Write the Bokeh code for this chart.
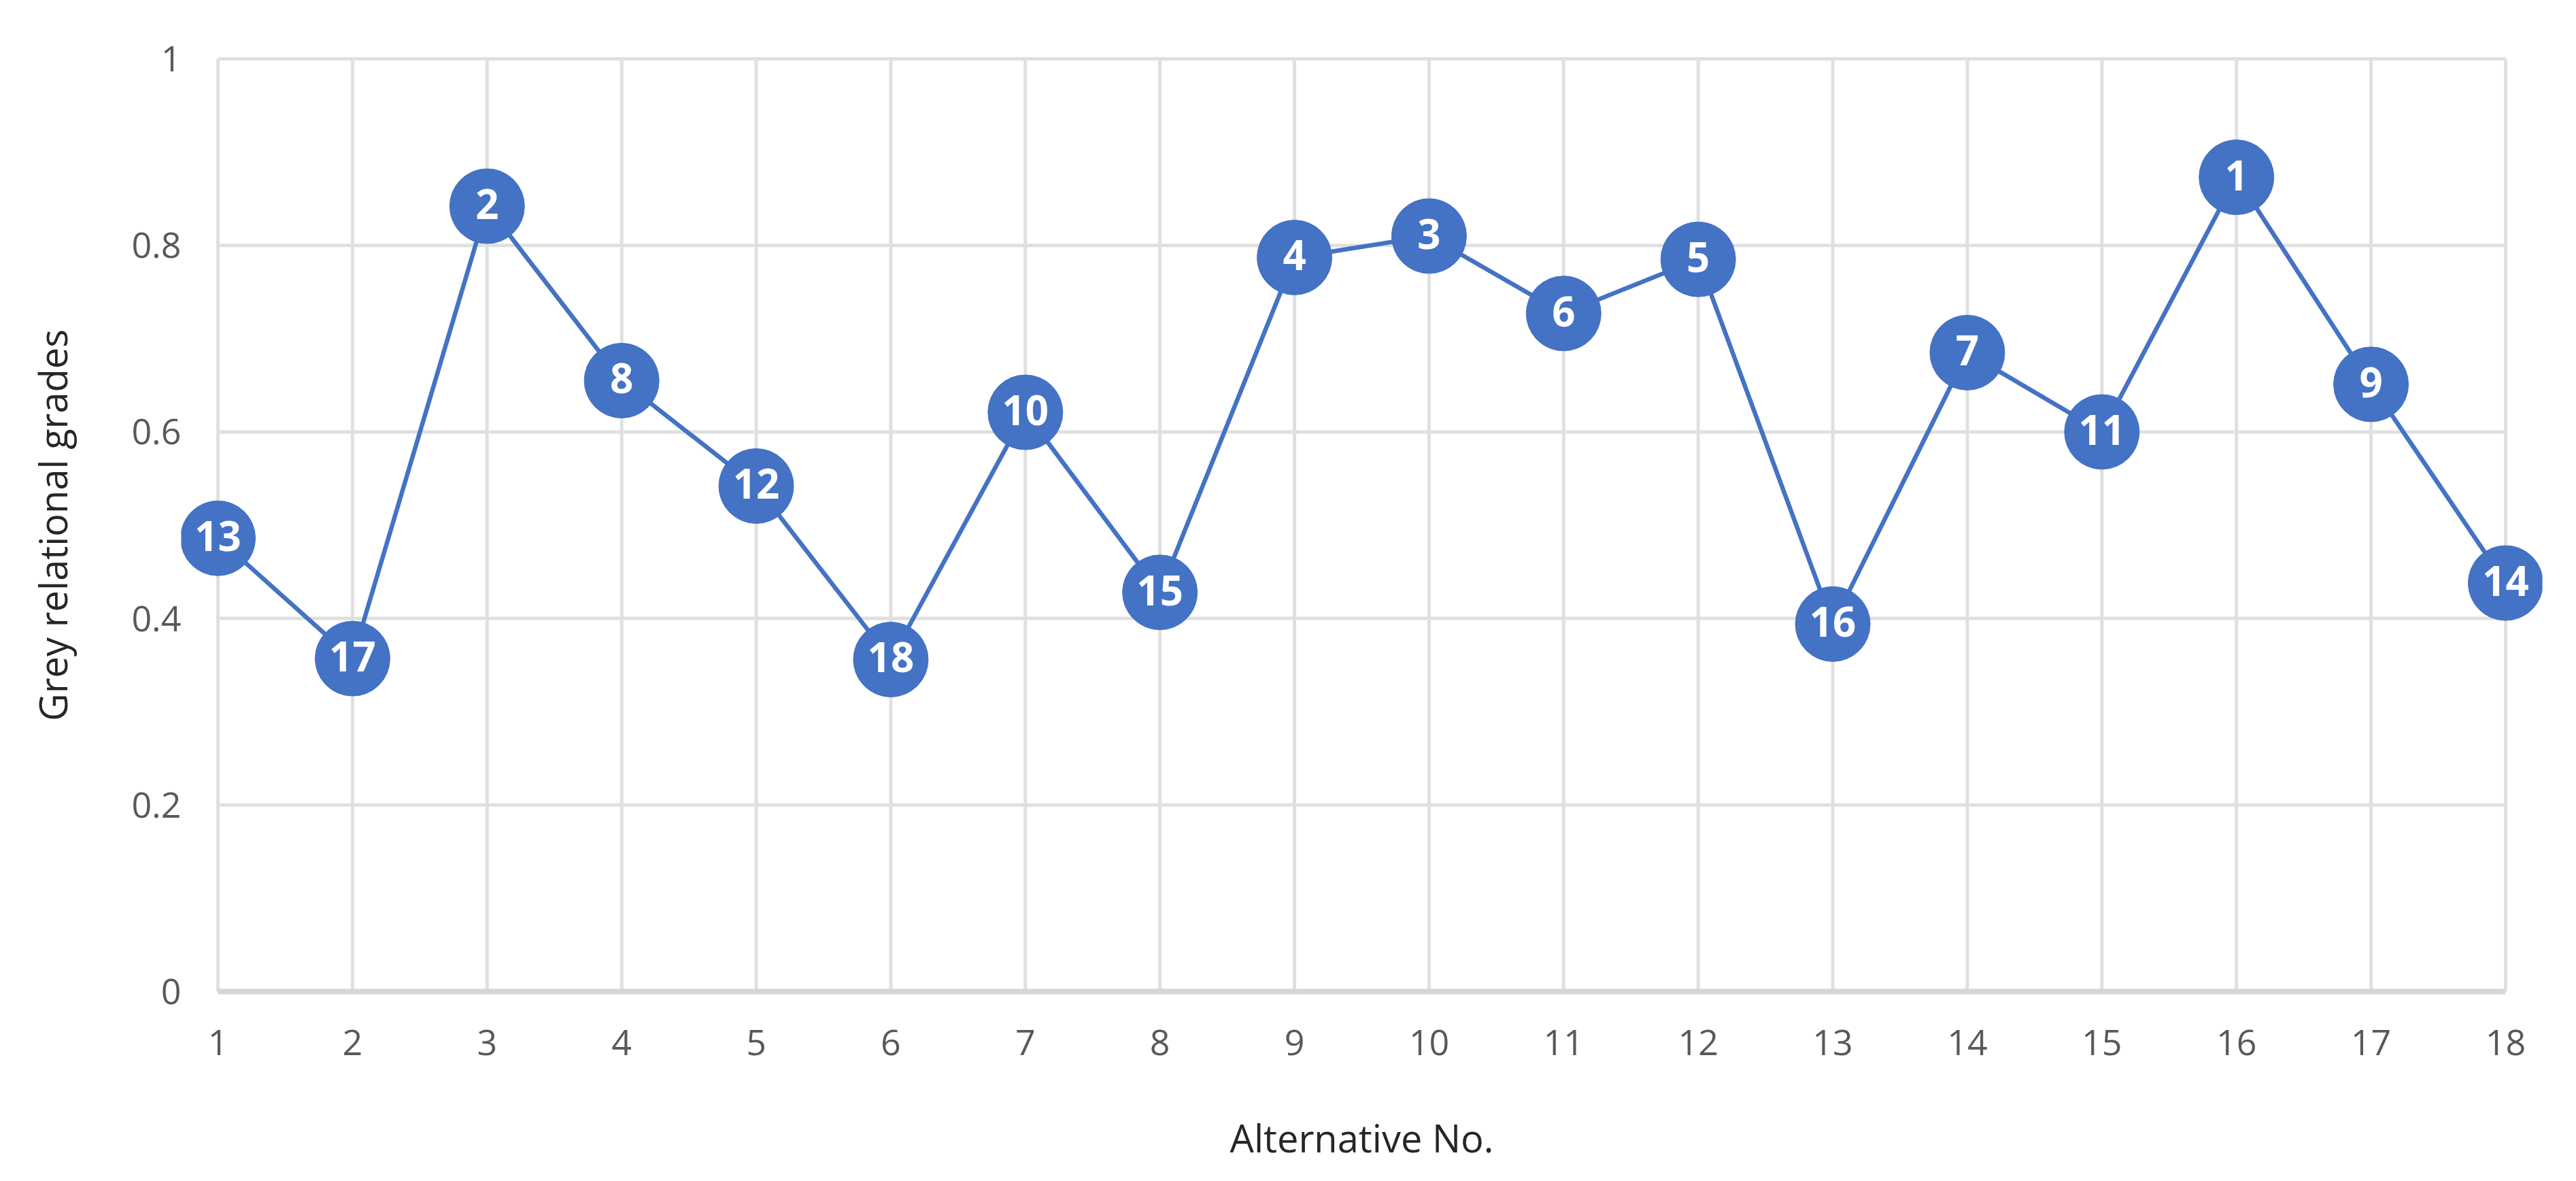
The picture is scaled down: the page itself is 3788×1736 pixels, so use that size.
from bokeh.plotting import figure
from bokeh.models import ColumnDataSource, FixedTicker, NumeralTickFormatter, Range1d
from bokeh.embed import file_html
from bokeh.resources import INLINE
from bokeh.core.properties import value

# ---- data ----
alternatives = list(range(1, 19))
grades = [0.486, 0.357, 0.842, 0.655, 0.542, 0.356, 0.621, 0.428, 0.787,
          0.810, 0.727, 0.785, 0.394, 0.685, 0.600, 0.873, 0.651, 0.438]
ranks = ["13", "17", "2", "8", "12", "18", "10", "15", "4",
         "3", "6", "5", "16", "7", "11", "1", "9", "14"]
x_ticks = list(range(1, 19))
y_ticks = [0, 0.2, 0.4, 0.6, 0.8, 1.0]

BLUE = "#4472C4"
FONT = "Open Sans"

p = figure(width=3772, height=1720, output_backend="svg", toolbar_location=None,
           x_range=Range1d(0.727, 18.273), y_range=Range1d(-0.0058, 1.0058),
           min_border_left=266, min_border_right=34, min_border_top=78,
           min_border_bottom=255)
p.outline_line_color = None
p.xgrid.visible = False
p.ygrid.visible = False

# grid lines built from tick arrays
vsrc = ColumnDataSource(dict(x0=x_ticks, y0=[y_ticks[0]] * len(x_ticks),
                             x1=x_ticks, y1=[y_ticks[-1]] * len(x_ticks)))
p.segment("x0", "y0", "x1", "y1", source=vsrc, line_color="#e0e0e0", line_width=5)
hsrc = ColumnDataSource(dict(x0=[x_ticks[0]] * (len(y_ticks) - 1), y0=y_ticks[1:],
                             x1=[x_ticks[-1]] * (len(y_ticks) - 1), y1=y_ticks[1:]))
p.segment("x0", "y0", "x1", "y1", source=hsrc, line_color="#e0e0e0", line_width=5)
bsrc = ColumnDataSource(dict(x0=[x_ticks[0]], y0=[y_ticks[0]], x1=[x_ticks[-1]], y1=[y_ticks[0]]))
p.segment("x0", "y0", "x1", "y1", source=bsrc, line_color="#d6d6d6", line_width=8)

src = ColumnDataSource(dict(x=alternatives, y=grades, r=ranks))
p.line("x", "y", source=src, line_color=BLUE, line_width=6.5)
p.scatter("x", "y", source=src, size=110, fill_color=BLUE, line_color=BLUE, line_width=1)
p.text("x", "y", text="r", source=src, text_color="white", text_font=value(FONT),
       text_font_style="bold", text_font_size="60px", text_align="center",
       text_baseline="middle", y_offset=-3)

# axes
p.xaxis.ticker = FixedTicker(ticks=x_ticks)
p.yaxis.ticker = FixedTicker(ticks=y_ticks)
p.yaxis.formatter = NumeralTickFormatter(format="0.[0]")
for ax in (p.xaxis[0], p.yaxis[0]):
    ax.axis_line_color = None
    ax.major_tick_line_color = None
    ax.minor_tick_line_color = None
    ax.major_tick_in = 0
    ax.major_tick_out = 0
    ax.major_label_text_color = "#595959"
    ax.major_label_text_font = FONT
    ax.major_label_text_font_size = "52px"
    ax.axis_label_text_font = FONT
    ax.axis_label_text_font_style = "normal"
    ax.axis_label_text_font_size = "56px"
    ax.axis_label_text_color = "#262626"

p.xaxis.axis_label = "Alternative No."
p.yaxis.axis_label = "Grey relational grades"
p.xaxis.major_label_standoff = 48
p.xaxis.axis_label_standoff = 80
p.yaxis.major_label_standoff = 0
p.yaxis.axis_label_standoff = 75

open("out.html", "w").write(file_html(p, INLINE))
